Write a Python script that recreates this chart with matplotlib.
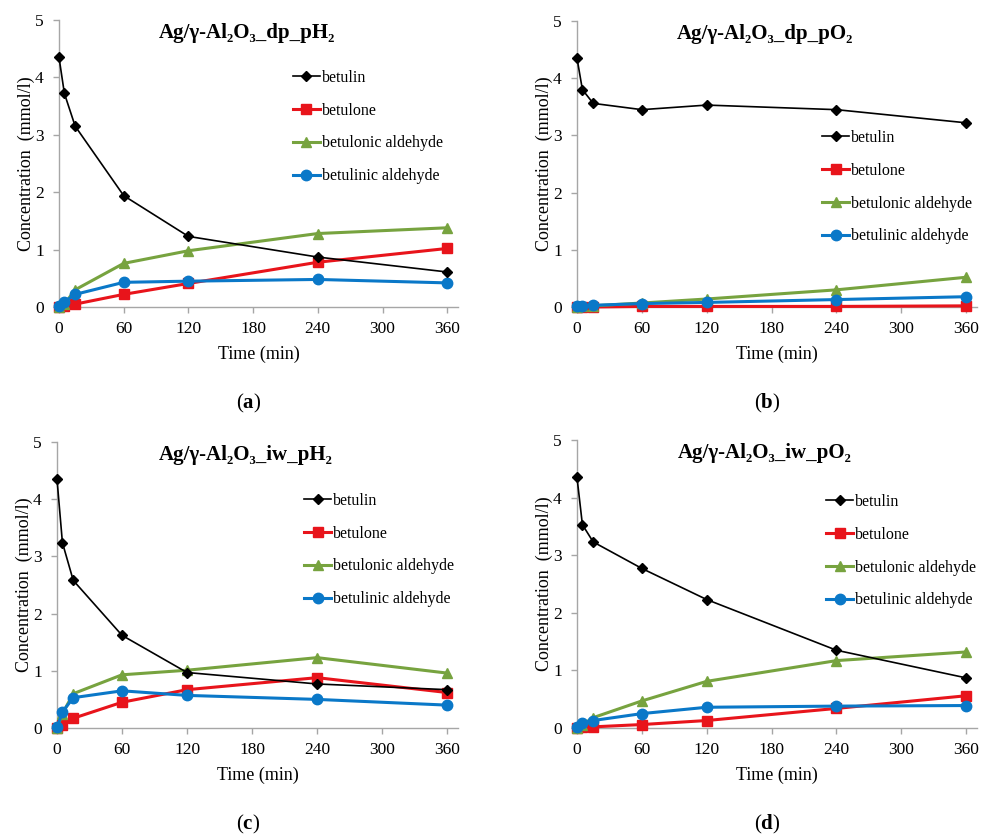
import numpy as np
import matplotlib
matplotlib.use("Agg")
import matplotlib.pyplot as plt

plt.rcParams['font.family'] = ['Liberation Serif', 'DejaVu Serif']
plt.rcParams['mathtext.fontset'] = 'custom'
plt.rcParams['mathtext.rm'] = 'Liberation Serif'
plt.rcParams['mathtext.bf'] = 'Liberation Serif:bold'

# thời gian lấy mẫu (phút)
time_min = [0, 5, 15, 60, 120, 240, 360]
series_names = ['betulin', 'betulone', 'betulonic aldehyde', 'betulinic aldehyde']

# (a) dp_pH2
a_betulin = [4.35, 3.72, 3.15, 1.94, 1.23, 0.87, 0.61]
a_betulone = [0.00, 0.01, 0.05, 0.22, 0.41, 0.78, 1.02]
a_betulonic = [0.00, 0.05, 0.30, 0.76, 0.98, 1.28, 1.38]
a_betulinic = [0.02, 0.09, 0.22, 0.43, 0.45, 0.48, 0.42]

# (b) dp_pO2
b_betulin = [4.35, 3.80, 3.56, 3.45, 3.53, 3.45, 3.22]
b_betulone = [0.00, 0.00, 0.00, 0.01, 0.01, 0.01, 0.02]
b_betulonic = [0.00, 0.01, 0.02, 0.07, 0.14, 0.30, 0.52]
b_betulinic = [0.01, 0.02, 0.03, 0.06, 0.08, 0.13, 0.18]

# (c) iw_pH2
c_betulin = [4.35, 3.24, 2.58, 1.62, 0.97, 0.77, 0.67]
c_betulone = [0.00, 0.06, 0.17, 0.45, 0.67, 0.88, 0.62]
c_betulonic = [0.00, 0.25, 0.60, 0.93, 1.01, 1.23, 0.96]
c_betulinic = [0.01, 0.28, 0.53, 0.65, 0.57, 0.50, 0.40]

# (d) iw_pO2
d_betulin = [4.35, 3.53, 3.23, 2.77, 2.23, 1.35, 0.87]
d_betulone = [0.00, 0.01, 0.02, 0.06, 0.13, 0.34, 0.56]
d_betulonic = [0.00, 0.06, 0.18, 0.47, 0.81, 1.17, 1.32]
d_betulinic = [0.02, 0.09, 0.13, 0.25, 0.36, 0.38, 0.39]

titles = ['Ag/γ-Al₂O₃_dp_pH₂', 'Ag/γ-Al₂O₃_dp_pO₂',
          'Ag/γ-Al₂O₃_iw_pH₂', 'Ag/γ-Al₂O₃_iw_pO₂']
panel_tags = ['a', 'b', 'c', 'd']
x_ticks = [0, 60, 120, 180, 240, 300, 360]
y_ticks = [0, 1, 2, 3, 4, 5]

panels = [
    [a_betulin, a_betulone, a_betulonic, a_betulinic],
    [b_betulin, b_betulone, b_betulonic, b_betulinic],
    [c_betulin, c_betulone, c_betulonic, c_betulinic],
    [d_betulin, d_betulone, d_betulonic, d_betulinic],
]

colors = ['black', '#E8141B', '#77A33F', '#0A78C8']
markers = ['D', 's', '^', 'o']
msizes = [5.5, 6.5, 7, 7.5]
lwidths = [1.2, 2.2, 2.2, 2.2]

W, H = 981, 835
# vị trí trục (pixel): trái, phải, đáy, đỉnh
boxes = [(59, 458, 307, 20), (577, 977, 307, 21),
         (57, 458, 728, 442), (577, 977, 728, 440)]
legend_anchor = [(0.586, 0.826), (0.6125, 0.619), (0.616, 0.822), (0.6225, 0.8125)]

fig = plt.figure(figsize=(W / 100, H / 100), dpi=100)
spine_c = '#A6A6A6'

for i, data in enumerate(panels):
    l, r, b, t = boxes[i]
    ax = fig.add_axes([l / W, 1 - b / H, (r - l) / W, (b - t) / H])
    for k, vals in enumerate(data):
        ax.plot(time_min, vals, color=colors[k], marker=markers[k], ms=msizes[k],
                lw=lwidths[k], label=series_names[k], clip_on=False, zorder=3 + (k == 0))
    ax.set_xlim(0, 370)
    ax.set_ylim(0, 5)
    ax.set_xticks(x_ticks)
    ax.set_yticks(y_ticks)
    for s in ['top', 'right']:
        ax.spines[s].set_visible(False)
    for s in ['left', 'bottom']:
        ax.spines[s].set_color(spine_c)
        ax.spines[s].set_linewidth(1.0)
    ax.tick_params(axis='both', colors=spine_c, labelcolor='black', labelsize=12.5,
                   length=4, width=1.0)
    ax.tick_params(axis='x', pad=6)
    ax.tick_params(axis='y', pad=7)
    ax.set_xlabel('Time (min)', fontsize=13, labelpad=6)
    ax.set_ylabel('Concentration  (mmol/l)', fontsize=13, labelpad=0)
    ax.text(0.47, 0.99, titles[i], transform=ax.transAxes, ha='center', va='top',
            fontsize=15, fontweight='bold')
    ax.legend(loc='upper left', bbox_to_anchor=legend_anchor[i], frameon=False,
              fontsize=11.5, borderpad=0, borderaxespad=0, handlelength=1.7,
              handletextpad=0.1, labelspacing=1.05)
    cx = (l + r) / 2 / W - 0.01
    cy = 1 - (b + 96) / H
    fig.text(cx, cy, '(' + r'$\mathbf{' + panel_tags[i] + '}$' + ')', ha='center',
             va='center', fontsize=15)

fig.savefig('out.png', dpi=100)
